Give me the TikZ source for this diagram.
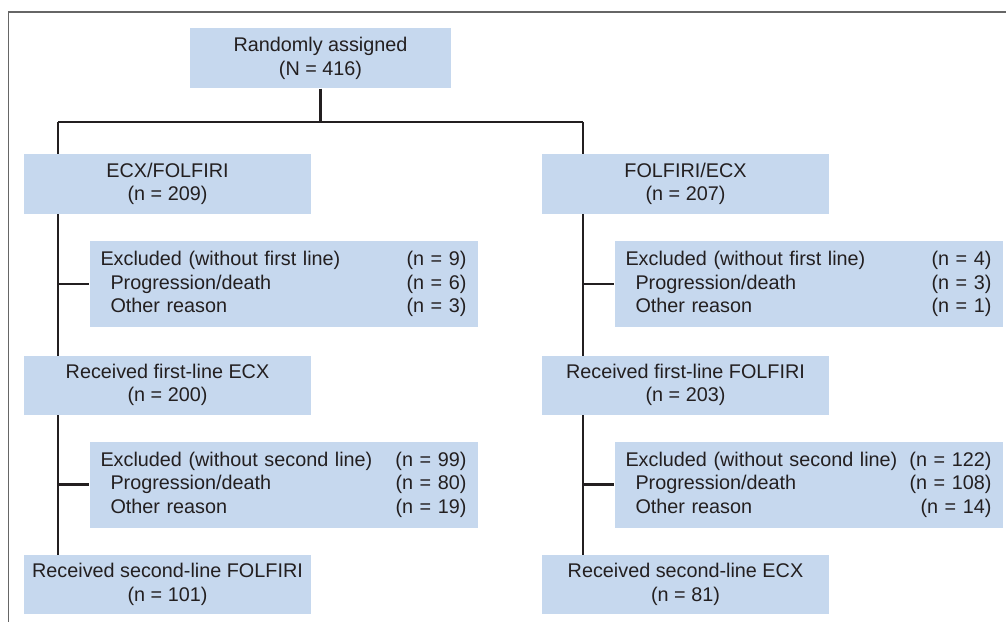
\documentclass[tikz,border=0pt]{standalone}
\usepackage{fontspec}
\setmainfont{Liberation Sans}
\usetikzlibrary{backgrounds}
\newlength\px
\setlength\px{0.03cm}
\definecolor{boxblue}{RGB}{198,216,238}
\definecolor{ink}{RGB}{35,31,32}
\newcommand{\indentline}{\hspace*{10\px}}
\tikzset{
	boxfont/.style={text=ink, font=\fontsize{16.9}{20}\selectfont},
	armbox/.style={boxfont, fill=boxblue, minimum width=287\px, minimum height=59\px, inner sep=0pt, align=center},
	topbox/.style={armbox, minimum width=261\px, minimum height=60\px},
	exbox/.style={boxfont, fill=boxblue, minimum height=86\px, inner xsep=11\px, inner ysep=0pt, text width=366\px, align=left},
	link/.style={draw=ink, line width=2.4\px},
}

\begin{document}
\begin{tikzpicture}[x=1\px, y=-1\px]
		%%%%% START %%%%%
		
		\useasboundingbox (0,0) rectangle (1006,622);
		\draw[black!60, line width=1.3\px] (1006,12) -- (8.7,12) -- (8.7,622);
		
		\node[topbox] (rand) at (320.5,58.5) {Randomly assigned\\(N = 416)};
		
		\node[armbox] (armA) at (167.5,184) {ECX/FOLFIRI\\(n = 209)};
		\node[armbox] (armB) at (685.5,184) {FOLFIRI/ECX\\(n = 207)};
		
		\node[exbox] (exA1) at (283.5,284) {Excluded (without first line)\hfill(n = 9)\\
			\indentline Progression/death\hfill(n = 6)\\
			\indentline Other reason\hfill(n = 3)};
		\node[exbox] (exB1) at (808.5,284) {Excluded (without first line)\hfill(n = 4)\\
			\indentline Progression/death\hfill(n = 3)\\
			\indentline Other reason\hfill(n = 1)};
		
		\node[armbox] (recA1) at (167.5,385) {Received first-line ECX\\(n = 200)};
		\node[armbox] (recB1) at (685.5,385) {Received first-line FOLFIRI\\(n = 203)};
		
		\node[exbox] (exA2) at (283.5,484.5) {Excluded (without second line)\hfill(n = 99)\\
			\indentline Progression/death\hfill(n = 80)\\
			\indentline Other reason\hfill(n = 19)};
		\node[exbox] (exB2) at (808.5,484.5) {Excluded (without second line)\hfill(n = 122)\\
			\indentline Progression/death\hfill(n = 108)\\
			\indentline Other reason\hfill(n = 14)};
		
		\node[armbox] (recA2) at (167.5,584.5) {Received second-line FOLFIRI\\(n = 101)};
		\node[armbox] (recB2) at (685.5,584.5) {Received second-line ECX\\(n = 81)};
		
		\coordinate (trunkA) at (58,122);
		\coordinate (trunkB) at (583,122);
		
		\begin{scope}[on background layer]
			\draw[link] (rand) -- (rand |- trunkA);
			\draw[link] (trunkA) -- (trunkB);
			\draw[link] (trunkA) -- (trunkA |- recA2.north);
			\draw[link] (trunkB) -- (trunkB |- recB2.north);
			\draw[link] (trunkA |- exA1.west) -- (exA1.west);
			\draw[link] (trunkA |- exA2.west) -- (exA2.west);
			\draw[link] (trunkB |- exB1.west) -- (exB1.west);
			\draw[link] (trunkB |- exB2.west) -- (exB2.west);
		\end{scope}
		
		%%%%% END %%%%%
	\end{tikzpicture}
\end{document}
